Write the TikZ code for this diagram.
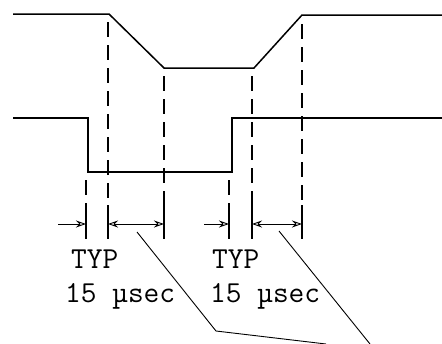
\documentclass[tikz,border=0pt]{standalone}
\usepackage{fontspec}
\usetikzlibrary{arrows.meta}
\tikzset{
  wave/.style={line width=1.5pt, line join=miter},
  guide/.style={line width=1.6pt, dash pattern=on 15pt off 8pt},
  tick/.style={line width=1.4pt},
  dim/.style={line width=0.9pt, -{Stealth[length=10pt,width=7pt,open]}},
  dimboth/.style={line width=0.9pt, {Stealth[length=10pt,width=7pt,open]}-{Stealth[length=10pt,width=7pt,open]}},
  leader/.style={line width=0.9pt},
  lbl/.style={font=\ttfamily\fontsize{30.5}{33}\selectfont, anchor=base west, inner sep=0pt}
}
\begin{document}
\begin{tikzpicture}[x=1pt, y=-1pt]
    \useasboundingbox (0,0) rectangle (442,343);

    % Top waveform
    \coordinate (t0) at (13,14);
    \coordinate (t1) at (109,14);
    \coordinate (t2) at (164,68);
    \coordinate (t3) at (254,68);
    \coordinate (t4) at (302,15);
    \coordinate (t5) at (442,15);
    \draw[wave] (t0) -- (t1) -- (t2) -- (t3) -- (t4) -- (t5);

    % Bottom waveform
    \coordinate (b0) at (13,118);
    \coordinate (b1) at (88,118);
    \coordinate (b2) at (88,172);
    \coordinate (b3) at (232,172);
    \coordinate (b4) at (232,118);
    \coordinate (b5) at (442,118);
    \draw[wave] (b0) -- (b1) -- (b2) -- (b3) -- (b4) -- (b5);

    % Guide lines
    \draw[guide] (108,22) -- (108,205);
    \draw[guide] (164,76) -- (164,205);
    \draw[guide] (252,76) -- (252,205);
    \draw[guide] (302,24) -- (302,205);
    \draw[guide] (86,180) -- (86,205);
    \draw[guide] (229,180) -- (229,205);
    \foreach \x in {86,108,164,229,252,302}
        \draw[tick] (\x,205) -- (\x,239);

    % Dimension arrows
    \coordinate (d0) at (58,224);
    \coordinate (d1) at (86,224);
    \coordinate (d2) at (108,224);
    \coordinate (d3) at (164,224);
    \coordinate (d4) at (204,224);
    \coordinate (d5) at (229,224);
    \coordinate (d6) at (252,224);
    \coordinate (d7) at (302,224);
    \draw[dim] (d0) -- (d1);
    \draw[dimboth] (d2) -- (d3);
    \draw[dim] (d4) -- (d5);
    \draw[dimboth] (d6) -- (d7);

    % Labels
    \node[lbl] (typa) at (71,268) {TYP};
    \node[lbl] (seca) at (65,302) {15 µsec};
    \node[lbl] (typb) at (212,268) {TYP};
    \node[lbl] (secb) at (210,302) {15 µsec};

    % Leaders
    \coordinate (la) at (137,232);
    \coordinate (lk) at (216,331);
    \coordinate (le) at (326,344);
    \coordinate (lb) at (279,231);
    \coordinate (lf) at (370,344);
    \draw[leader] (la) -- (lk) -- (le);
    \draw[leader] (lb) -- (lf);
\end{tikzpicture}
\end{document}
